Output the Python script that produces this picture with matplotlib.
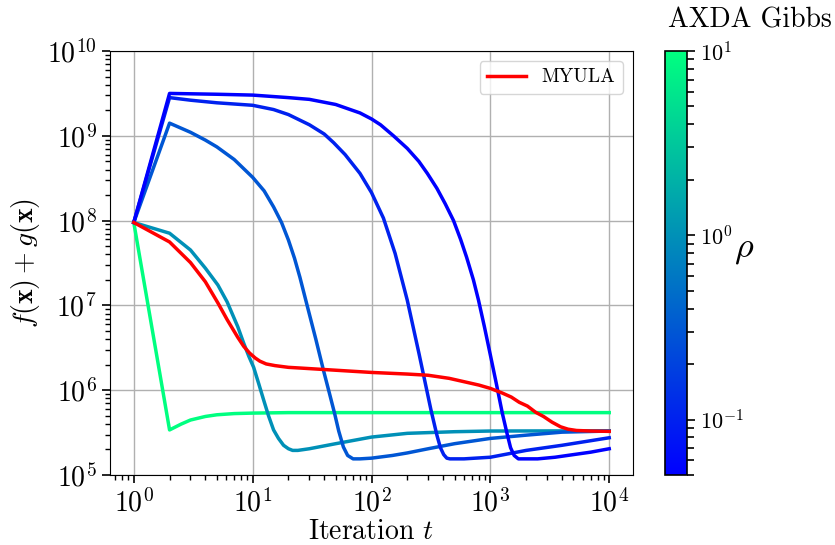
import numpy as np
import matplotlib
matplotlib.use("Agg")
import matplotlib.pyplot as plt
from matplotlib.colors import LogNorm
from matplotlib.cm import ScalarMappable
from matplotlib.ticker import LogLocator

plt.rcParams['font.family'] = 'serif'
plt.rcParams['font.serif'] = ['cmr10']
plt.rcParams['mathtext.fontset'] = 'cm'
plt.rcParams['axes.formatter.use_mathtext'] = True
plt.rcParams['axes.unicode_minus'] = False

# AXDA Gibbs runs, one per rho
rho_values = [10.0, 1.0, 0.3, 0.1, 0.05]

t_rho10 = [1, 2, 2.5, 3, 4, 5, 7, 10, 20, 100, 1000, 10000]
v_rho10 = [9.5e7, 3.4e5, 3.98e5, 4.45e5, 4.9e5, 5.13e5, 5.3e5, 5.37e5, 5.44e5, 5.44e5, 5.44e5, 5.44e5]

t_rho1 = [1, 2, 3, 4, 5.1, 6.1, 7.5, 8.4, 9.3, 10.2, 11.3, 12.4, 13.6, 15, 16.5, 18.2, 20, 21.7, 24, 30,
          50, 100, 200, 500, 1000, 10000]
v_rho1 = [9.5e7, 7.1e7, 4.5e7, 2.75e7, 1.74e7, 1.1e7, 5.6e6, 3.6e6, 2.5e6, 1.86e6, 1.17e6, 7.6e5, 5.0e5,
          3.4e5, 2.7e5, 2.24e5, 2.04e5, 1.95e5, 1.95e5, 2.04e5, 2.34e5, 2.8e5, 3.1e5, 3.24e5, 3.3e5, 3.32e5]

t_rho03 = [1, 2, 3, 4, 5, 7, 10, 12.5, 15, 17.5, 20, 22.5, 25, 29, 34, 39.5, 44, 48.8, 53, 58, 63, 70, 80,
           100, 150, 200, 300, 500, 1000, 2000, 4000, 10000]
v_rho03 = [9.5e7, 1.41e9, 1.1e9, 8.9e8, 7.4e8, 5.25e8, 3.24e8, 2.24e8, 1.45e8, 9.5e7, 5.9e7, 3.6e7, 2.14e7,
           9.5e6, 4.0e6, 1.7e6, 9.5e5, 5.4e5, 3.3e5, 2.14e5, 1.7e5, 1.55e5, 1.55e5, 1.58e5, 1.7e5, 1.82e5,
           2.04e5, 2.34e5, 2.7e5, 2.95e5, 3.2e5, 3.3e5]

t_rho01 = [1, 2, 3, 5, 10, 15, 20, 30, 40, 48, 60, 80, 100, 126, 158, 200, 251, 316, 355, 380, 405, 430,
           457, 600, 1000, 2000, 4000, 10000]
v_rho01 = [9.5e7, 2.82e9, 2.63e9, 2.45e9, 2.29e9, 2.04e9, 1.78e9, 1.35e9, 1.05e9, 8.3e8, 6.0e8, 3.6e8,
           2.14e8, 1.07e8, 4.1e7, 1.15e7, 2.7e6, 5.9e5, 2.95e5, 2.1e5, 1.74e5, 1.58e5, 1.55e5, 1.55e5,
           1.62e5, 1.95e5, 2.24e5, 2.75e5]

t_rho005 = [1, 2, 5, 10, 20, 30, 50, 63, 80, 100, 119, 153, 200, 250, 295, 355, 417, 490, 562, 631, 720,
            795, 891, 1000, 1122, 1259, 1380, 1479, 1585, 1720, 2000, 2500, 3500, 5000, 7000, 10000]
v_rho005 = [9.5e7, 3.16e9, 3.09e9, 3.02e9, 2.82e9, 2.69e9, 2.34e9, 2.09e9, 1.86e9, 1.58e9, 1.35e9, 1.0e9,
            7.1e8, 5.0e8, 3.6e8, 2.4e8, 1.58e8, 1.0e8, 6.0e7, 3.7e7, 2.0e7, 1.15e7, 5.6e6, 2.6e6, 1.2e6,
            5.4e5, 3.1e5, 2.1e5, 1.7e5, 1.55e5, 1.55e5, 1.55e5, 1.62e5, 1.74e5, 1.86e5, 2.04e5]

axda_t = [t_rho10, t_rho1, t_rho03, t_rho01, t_rho005]
axda_v = [v_rho10, v_rho1, v_rho03, v_rho01, v_rho005]

# MYULA
t_myula = [1, 2, 3, 4, 5.1, 6.1, 7.5, 8.4, 9.4, 10.5, 11.5, 13, 15.4, 20, 26, 50, 100, 200, 300, 450, 600,
           800, 1000, 1250, 1500, 1750, 2050, 2400, 2800, 3300, 3900, 4500, 5300, 7000, 10000]
v_myula = [9.5e7, 5.6e7, 3.2e7, 1.9e7, 1.07e7, 6.8e6, 4.2e6, 3.3e6, 2.75e6, 2.4e6, 2.2e6, 2.04e6, 1.95e6,
           1.86e6, 1.82e6, 1.72e6, 1.62e6, 1.55e6, 1.5e6, 1.38e6, 1.26e6, 1.15e6, 1.05e6, 9.3e5, 8.3e5,
           7.2e5, 6.5e5, 5.5e5, 4.9e5, 4.2e5, 3.7e5, 3.47e5, 3.35e5, 3.3e5, 3.27e5]

fig = plt.figure(figsize=(8.35, 5.45), dpi=100)
ax = fig.add_axes([110 / 835, 70 / 545, 523 / 835, 424 / 545])
cax = fig.add_axes([665 / 835, 70 / 545, 22 / 835, 424 / 545])

cmap = plt.get_cmap('winter')
norm = LogNorm(vmin=0.05, vmax=10)

for rho, tt, vv in zip(rho_values, axda_t, axda_v):
    ax.plot(tt, vv, color=cmap(norm(rho)), lw=2.5, solid_joinstyle='round')
ax.plot(t_myula, v_myula, color='red', lw=2.5, label='MYULA', solid_joinstyle='round')

ax.set_xscale('log')
ax.set_yscale('log')
ax.set_ylim(1e5, 1e10)
ax.xaxis.set_minor_locator(LogLocator(base=10, subs=np.arange(2, 10), numticks=20))
ax.yaxis.set_minor_locator(LogLocator(base=10, subs=np.arange(2, 10), numticks=20))
ax.grid(True, which='major', color='#b0b0b0', lw=1)
ax.tick_params(which='both', direction='out', labelsize=20, bottom=True, left=True, colors='black')
ax.tick_params(which='major', length=6, width=1.2)
ax.tick_params(which='minor', length=3.5, width=1.0)
ax.set_xlabel('Iteration $t$', fontsize=20, labelpad=1)
ax.set_ylabel(r'$f(\mathbf{x}) + g(\mathbf{x})$', fontsize=20, labelpad=4)
ax.legend(loc='upper right', fontsize=14)

sm = ScalarMappable(norm=norm, cmap=cmap)
cb = fig.colorbar(sm, cax=cax)
cb.ax.yaxis.set_minor_locator(LogLocator(base=10, subs=np.arange(2, 10), numticks=20))
cb.ax.tick_params(which='both', right=True, direction='out', colors='black')
cb.ax.tick_params(labelsize=16)
cb.ax.tick_params(which='major', length=6, width=1.2)
cb.ax.tick_params(which='minor', length=5, width=1.2)
cb.outline.set_linewidth(1.2)
cb.set_label(r'$\rho$', fontsize=26, rotation=0, va='center')
cb.ax.yaxis.set_label_coords(3.6, 0.53)
fig.text(750 / 835, 1 - 20 / 545, 'AXDA Gibbs', ha='center', va='center', fontsize=20)

fig.savefig('out.png', dpi=100)
